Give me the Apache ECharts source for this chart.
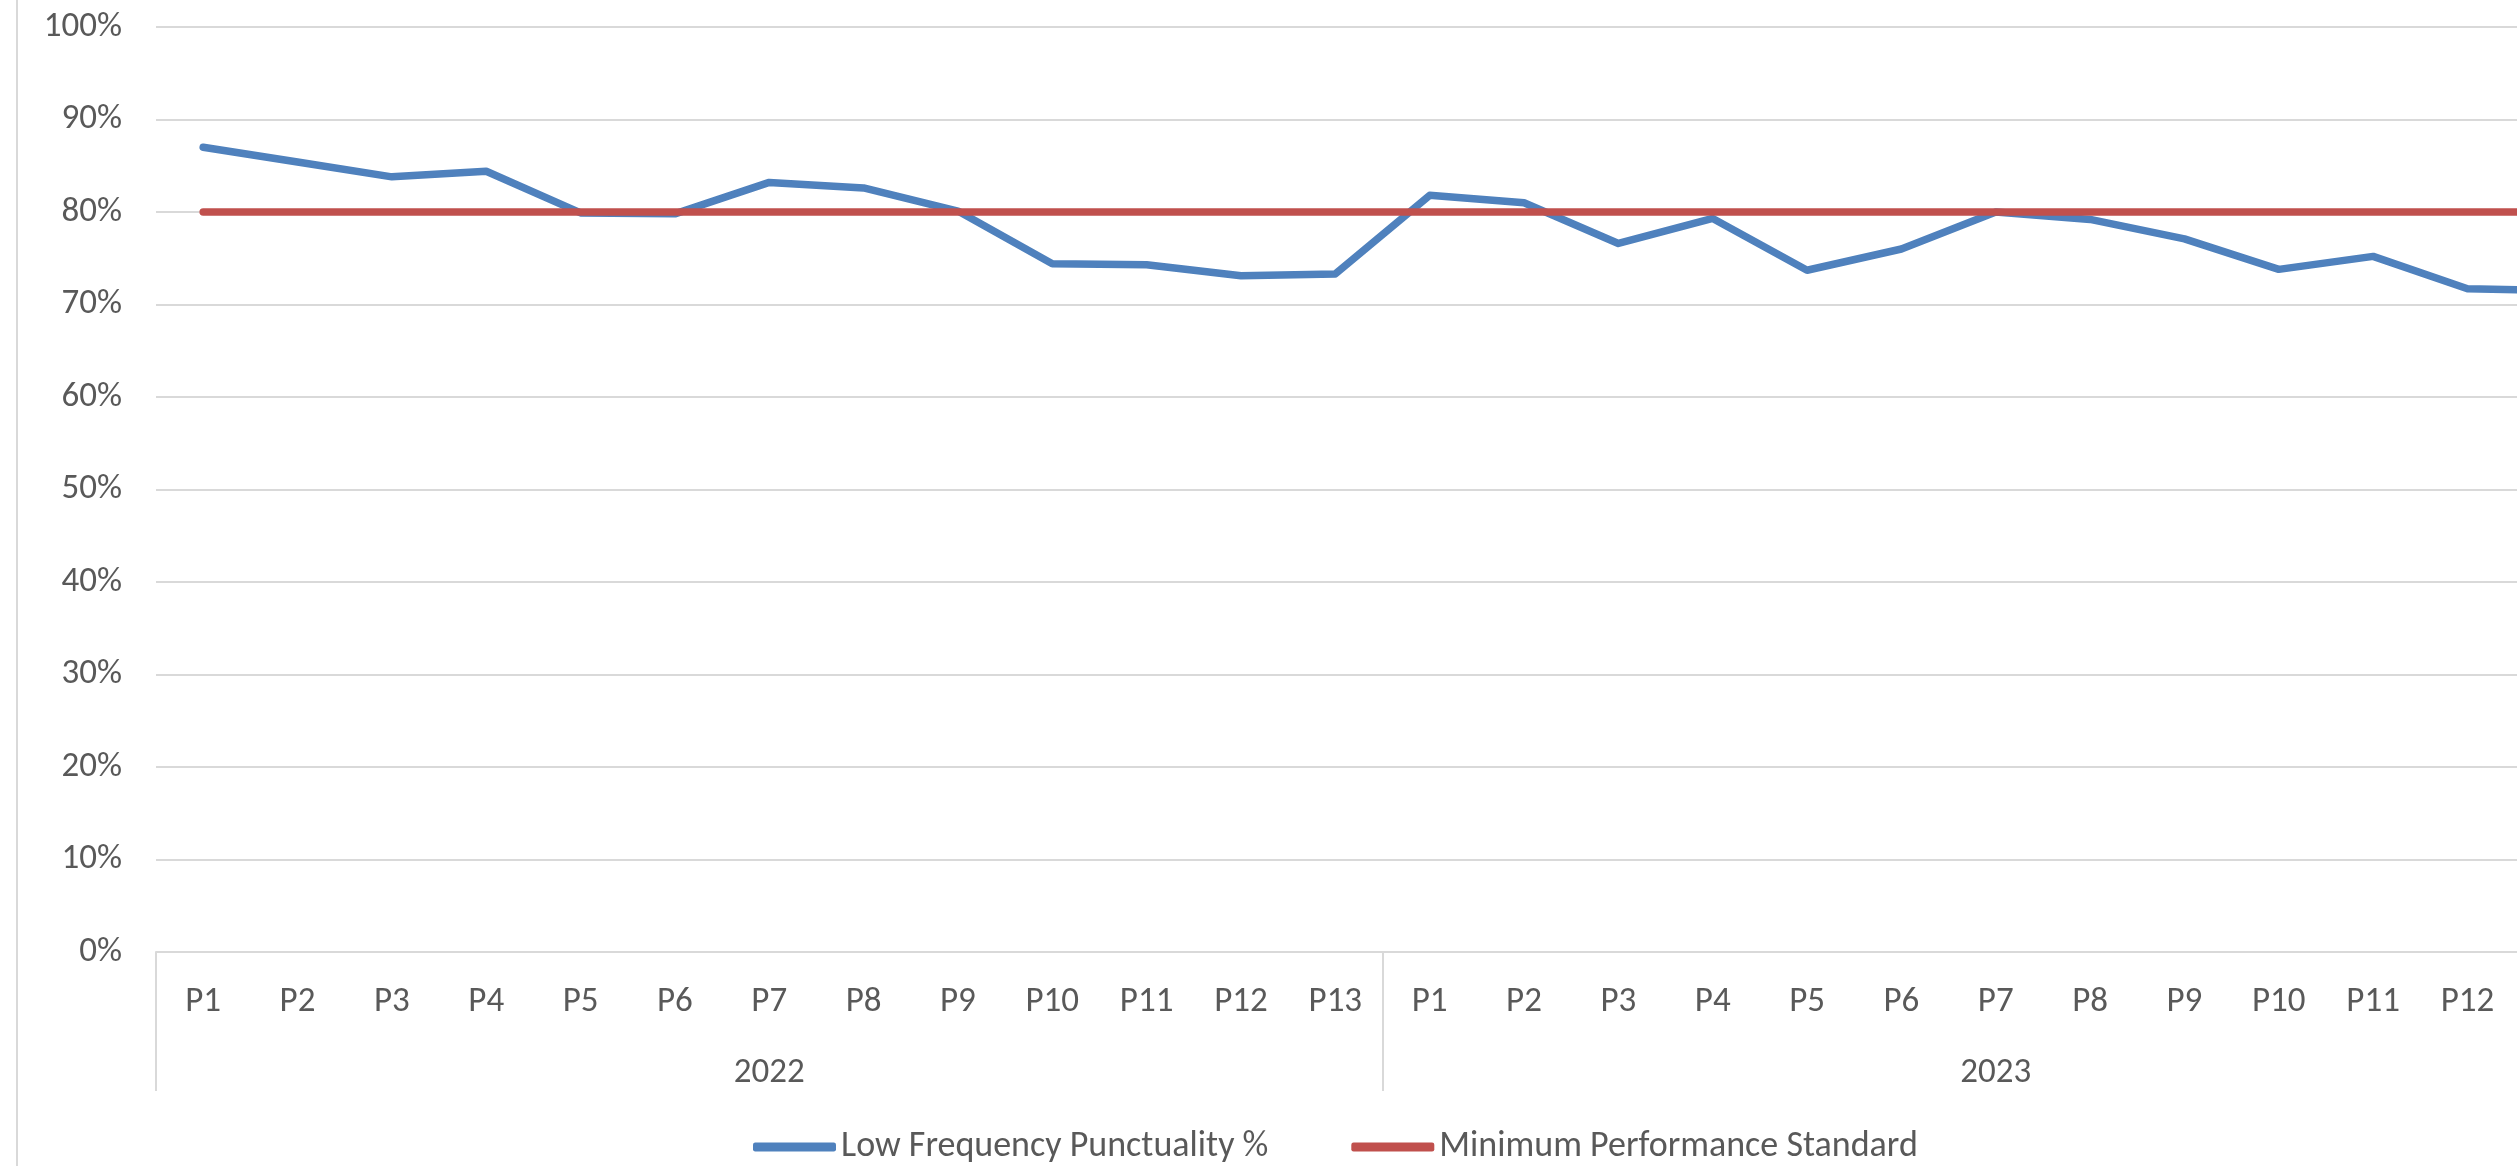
<!DOCTYPE html>
<html>
<head>
<meta charset="utf-8">
<script src="https://cdn.jsdelivr.net/npm/echarts@6/dist/echarts.min.js"></script>
<style>
  html, body { margin: 0; padding: 0; background: #fff; }
  #main { width: 2517px; height: 1166px; }
</style>
</head>
<body>
<div id="main"></div>
<script>
// periods per year (two years of 13 periods)
const periods = ['P1', 'P2', 'P3', 'P4', 'P5', 'P6', 'P7', 'P8', 'P9', 'P10', 'P11', 'P12', 'P13',
                 'P1', 'P2', 'P3', 'P4', 'P5', 'P6', 'P7', 'P8', 'P9', 'P10', 'P11', 'P12', 'P13'];
const years = ['2022', '2023'];
const yTicks = [0, 10, 20, 30, 40, 50, 60, 70, 80, 90, 100];

const punctuality = [87.0, 85.4, 83.8, 84.4, 79.9, 79.8, 83.2, 82.6, 80.1, 74.4, 74.3, 73.1, 73.3,
                     81.8, 81.0, 76.6, 79.3, 73.7, 76.0, 80.0, 79.2, 77.1, 73.8, 75.2, 71.7, 71.5];
const minStandard = [80, 80, 80, 80, 80, 80, 80, 80, 80, 80, 80, 80, 80,
                     80, 80, 80, 80, 80, 80, 80, 80, 80, 80, 80, 80, 80];

const seriesNames = ['Low Frequency Punctuality %', 'Minimum Performance Standard'];

var chart = echarts.init(document.getElementById('main'), null, { renderer: 'canvas' });

const fontFamily = 'Carlito, Calibri, Lato, "Liberation Sans", sans-serif';
const textColor = '#595959';
const lineGray = '#d9d9d9';

const option = {
  backgroundColor: '#fff',
  animation: false,
  color: ['#4f81bd', '#c0504d'],
  textStyle: { fontFamily: fontFamily },
  grid: {
    left: 156,
    top: 27,
    width: 2453,   // chart is cut off on the right, like the original
    height: 925,
    containLabel: false,
    outerBoundsMode: 'none'
  },
  legend: {
    data: seriesNames,
    left: 748,
    top: 1124,
    icon: 'roundRect',
    itemWidth: 83,
    itemHeight: 9,
    itemGap: 83,
    textStyle: { fontSize: 36, color: textColor, fontFamily: fontFamily }
  },
  xAxis: [{
    type: 'category',
    data: periods,
    boundaryGap: true,
    axisLine: { show: true, lineStyle: { color: lineGray, width: 2 } },
    axisTick: { show: false },
    axisLabel: { interval: 0, margin: 33, fontSize: 35, color: textColor, fontFamily: fontFamily }
  }, {
    type: 'category',
    data: years,
    position: 'bottom',
    boundaryGap: true,
    axisLine: { show: false },
    axisTick: { show: true, length: 139, lineStyle: { color: lineGray, width: 2 } },
    axisLabel: { interval: 0, margin: 104, fontSize: 35, color: textColor, fontFamily: fontFamily }
  }],
  yAxis: {
    type: 'value',
    min: yTicks[0],
    max: yTicks[yTicks.length - 1],
    interval: 10,
    axisLine: { show: false },
    axisTick: { show: false },
    splitLine: { lineStyle: { color: lineGray, width: 2 } },
    axisLabel: { formatter: '{value}%', margin: 34, fontSize: 35, color: textColor, fontFamily: fontFamily }
  },
  graphic: [{
    type: 'line',
    shape: { x1: 17, y1: 0, x2: 17, y2: 1166 },
    style: { stroke: lineGray, lineWidth: 2 }
  }],
  series: [{
    name: seriesNames[0],
    type: 'line',
    data: punctuality,
    xAxisIndex: 0,
    symbol: 'none',
    lineStyle: { width: 7.5, cap: 'round', join: 'round' }
  }, {
    name: seriesNames[1],
    type: 'line',
    data: minStandard,
    xAxisIndex: 0,
    symbol: 'none',
    lineStyle: { width: 7.5, cap: 'round', join: 'round' }
  }]
};

chart.setOption(option);
</script>
</body>
</html>
